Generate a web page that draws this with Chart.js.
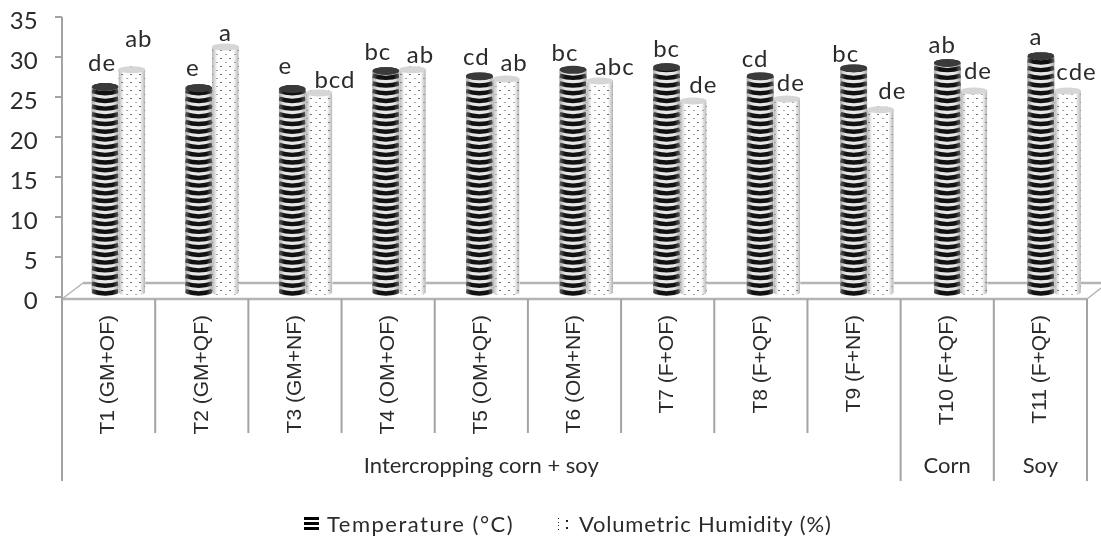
<!DOCTYPE html>
<html>
<head>
<meta charset="utf-8">
<title>Temperature and volumetric humidity</title>
<script src="https://cdn.jsdelivr.net/npm/chart.js@4/dist/chart.umd.min.js"></script>
<style>
    html, body { margin: 0; padding: 0; background: #fff; }
    canvas { display: block; }
</style>
</head>
<body>
<canvas id="soilChart" width="1101" height="537"></canvas>
<script>
// ===========================
// Data
// ===========================

const treatments = [
    'T1 (GM+OF)', 'T2 (GM+QF)', 'T3 (GM+NF)', 'T4 (OM+OF)', 'T5 (OM+QF)', 'T6 (OM+NF)',
    'T7 (F+OF)', 'T8 (F+QF)', 'T9 (F+NF)', 'T10 (F+QF)', 'T11 (F+QF)'
];
const groupNames = ['Intercropping corn + soy', 'Corn', 'Soy'];
const groupSpans = [9, 1, 1];
const temperature = [26.25, 26.1, 26, 28.25, 27.6, 28.4, 28.75, 27.6, 28.6, 29.25, 30.1];
const humidity = [28.4, 31.25, 25.5, 28.4, 27.25, 27, 24.5, 24.75, 23.4, 25.75, 25.75];
const temperatureLetters = ['de', 'e', 'e', 'bc', 'cd', 'bc', 'bc', 'cd', 'bc', 'ab', 'a'];
const humidityLetters = ['ab', 'a', 'bcd', 'ab', 'ab', 'abc', 'de', 'de', 'de', 'de', 'cde'];
const seriesNames = ['Temperature (°C)', 'Volumetric Humidity (%)'];
const valueTicks = [0, 5, 10, 15, 20, 25, 30, 35];

// ===========================
// Placement of the letters, relative to the top of each bar
// ===========================

const temperatureNudge = [[-3, -24], [-6, -20], [-7, -23], [-8, -19], [-3, -19], [-8, -17], [0, -18], [-5, -17], [-8, -14], [-5, -18], [-5, -19]];
const humidityNudge = [[7, -31], [0, -14], [16, -13], [8, -15], [8, -16], [15, -14], [10, -16], [4, -16], [12, -19], [4, -20], [9, -19]];

const TEXT_COLOR = '#2b2b2b';
const AXIS_COLOR = '#a3a3a3';
const FLOOR_COLOR = '#b4b4b4';
const AXIS_LEFT = 62;
const AXIS_RIGHT = 1087;
const FLOOR_DEPTH_X = 21;
const FLOOR_DEPTH_Y = 16;

// ===========================
// Fill patterns
// ===========================

function makeTile(width, height, paint) {
    const tile = document.createElement('canvas');
    tile.width = width;
    tile.height = height;
    paint(tile.getContext('2d'));
    return tile.getContext('2d').createPattern(tile, 'repeat');
}

const dottedFill = makeTile(9, 8, (c) => {
    c.fillStyle = '#ffffff';
    c.fillRect(0, 0, 9, 8);
    c.fillStyle = '#6f6f6f';
    c.fillRect(4, 2, 2, 1);
    c.fillStyle = '#a8a8a8';
    c.fillRect(0, 6, 2, 1);
});

const legendStripes = makeTile(15, 5, (c) => {
    c.fillStyle = '#ffffff';
    c.fillRect(0, 0, 15, 5);
    c.fillStyle = '#000000';
    c.fillRect(0, 0, 15, 3);
});

const legendDots = makeTile(14, 7, (c) => {
    c.fillStyle = '#ffffff';
    c.fillRect(0, 0, 14, 7);
    c.fillStyle = '#222222';
    c.fillRect(2, 1, 1, 1);
    c.fillRect(10, 3, 2, 2);
    c.fillRect(2, 5, 1, 1);
});

// ===========================
// Cylinder look for the bars
// ===========================

function cylinderPath(ctx, bar, capHeight) {
    const half = bar.width / 2;
    ctx.beginPath();
    ctx.moveTo(bar.x - half, bar.y);
    ctx.ellipse(bar.x, bar.y, half, capHeight, 0, Math.PI, 0, false);
    ctx.lineTo(bar.x + half, bar.base);
    ctx.ellipse(bar.x, bar.base, half, capHeight, 0, 0, Math.PI, false);
    ctx.closePath();
}

function edgeShade(ctx, bar, alpha) {
    const half = bar.width / 2;
    const edge = ctx.createLinearGradient(bar.x - half, 0, bar.x + half, 0);
    edge.addColorStop(0, `rgba(140,140,140,${alpha})`);
    edge.addColorStop(0.2, 'rgba(140,140,140,0)');
    edge.addColorStop(0.8, 'rgba(140,140,140,0)');
    edge.addColorStop(1, `rgba(140,140,140,${alpha})`);
    ctx.fillStyle = edge;
    ctx.fillRect(bar.x - half, bar.y - 5, bar.width, bar.base - bar.y + 10);
}

function drawDarkCylinder(ctx, bar) {
    const half = bar.width / 2;
    ctx.save();
    cylinderPath(ctx, bar, 4);
    ctx.fillStyle = '#e6e6e6';
    ctx.fill();
    ctx.clip();
    ctx.filter = 'blur(0.5px)';
    ctx.strokeStyle = '#111111';
    ctx.lineWidth = 4.4;
    for (let y = bar.base + 1; y > bar.y - 4; y -= 7.7) {
        ctx.beginPath();
        ctx.moveTo(bar.x - half, y - 2);
        ctx.quadraticCurveTo(bar.x, y + 2.5, bar.x + half, y - 2);
        ctx.stroke();
    }
    ctx.filter = 'none';
    edgeShade(ctx, bar, 0.6);
    ctx.restore();

    ctx.beginPath();
    ctx.ellipse(bar.x, bar.y, half, 4, 0, 0, Math.PI * 2);
    ctx.fillStyle = '#3a3a3a';
    ctx.fill();
}

function drawLightCylinder(ctx, bar) {
    const half = bar.width / 2;
    ctx.save();
    cylinderPath(ctx, bar, 3.5);
    ctx.fillStyle = dottedFill;
    ctx.fill();
    ctx.clip();
    edgeShade(ctx, bar, 0.65);
    ctx.restore();

    ctx.beginPath();
    ctx.ellipse(bar.x, bar.y, half, 3.5, 0, 0, Math.PI * 2);
    ctx.fillStyle = '#d6d6d6';
    ctx.fill();
}

// ===========================
// Plugin: 3D floor, axes, category table, legend
// ===========================

function frontX(chart, position) {
    const { left, right } = chart.chartArea;
    const boundary = chart.scales.x.getPixelForValue(position - 0.5);
    return AXIS_LEFT + (boundary - left) * (AXIS_RIGHT - AXIS_LEFT) / (right - left);
}

function strokeLine(ctx, x1, y1, x2, y2) {
    ctx.beginPath();
    ctx.moveTo(x1, y1);
    ctx.lineTo(x2, y2);
    ctx.stroke();
}

function drawLegend(ctx) {
    const swatches = [legendStripes, legendDots];
    const slots = [304, 556];
    const spacing = ['1.5px', '0.8px'];
    ctx.font = '22px Lato';
    ctx.textAlign = 'left';
    ctx.textBaseline = 'middle';
    seriesNames.forEach((name, i) => {
        ctx.save();
        ctx.translate(slots[i], 517);
        ctx.fillStyle = swatches[i];
        ctx.fillRect(0, 0, 15, 15);
        ctx.restore();
        ctx.letterSpacing = spacing[i];
        ctx.fillStyle = TEXT_COLOR;
        ctx.fillText(name, slots[i] + 23, 525);
    });
    ctx.letterSpacing = '0px';
}

const frameworkPlugin = {
    id: 'framework',
    beforeDatasetsDraw(chart) {
        const ctx = chart.ctx;
        const yScale = chart.scales.y;
        const zero = yScale.getPixelForValue(0);
        const front = zero + 2;
        const back = front - FLOOR_DEPTH_Y;

        ctx.save();

        // floor of the 3D box
        ctx.strokeStyle = FLOOR_COLOR;
        ctx.lineWidth = 2.5;
        strokeLine(ctx, AXIS_LEFT, front, AXIS_RIGHT, front);
        strokeLine(ctx, AXIS_LEFT + FLOOR_DEPTH_X, back, 1101, back);
        ctx.lineWidth = 1.5;
        strokeLine(ctx, AXIS_LEFT, front, AXIS_LEFT + FLOOR_DEPTH_X, back);
        strokeLine(ctx, AXIS_RIGHT, front, 1101, front - 11);

        // value axis
        ctx.strokeStyle = AXIS_COLOR;
        ctx.lineWidth = 2;
        strokeLine(ctx, AXIS_LEFT, yScale.getPixelForValue(35), AXIS_LEFT, front);
        valueTicks.forEach((v) => {
            const y = yScale.getPixelForValue(v);
            strokeLine(ctx, AXIS_LEFT - 7, y, AXIS_LEFT, y);
        });

        // separators under the axis, long ones at the group edges
        const groupEdges = [0];
        groupSpans.forEach((span, i) => groupEdges.push(groupEdges[i] + span));
        for (let i = 0; i <= treatments.length; i++) {
            const x = frontX(chart, i);
            strokeLine(ctx, x, front, x, groupEdges.includes(i) ? 481 : 433);
        }

        // rotated treatment names
        ctx.fillStyle = TEXT_COLOR;
        treatments.forEach((name, i) => {
            ctx.save();
            ctx.translate((frontX(chart, i) + frontX(chart, i + 1)) / 2, 315);
            ctx.rotate(-Math.PI / 2);
            ctx.font = '21px "Liberation Sans"';
            ctx.textAlign = 'right';
            ctx.textBaseline = 'middle';
            ctx.fillText(name, 0, 0);
            ctx.restore();
        });

        // group names
        ctx.font = '22px Lato';
        ctx.textAlign = 'center';
        ctx.textBaseline = 'middle';
        groupNames.forEach((name, i) => {
            const x = (frontX(chart, groupEdges[i]) + frontX(chart, groupEdges[i + 1])) / 2;
            ctx.fillText(name, x, 466);
        });

        drawLegend(ctx);
        ctx.restore();
    },
    afterDatasetsDraw(chart) {
        const ctx = chart.ctx;
        const darkBars = chart.getDatasetMeta(0).data;
        const lightBars = chart.getDatasetMeta(1).data;

        darkBars.forEach((bar) => drawDarkCylinder(ctx, bar));
        lightBars.forEach((bar) => drawLightCylinder(ctx, bar));

        ctx.save();
        ctx.font = '24px Lato';
        ctx.fillStyle = TEXT_COLOR;
        ctx.textAlign = 'center';
        ctx.textBaseline = 'middle';
        ctx.letterSpacing = '1px';
        darkBars.forEach((bar, i) => {
            const [dx, dy] = temperatureNudge[i];
            ctx.fillText(temperatureLetters[i], bar.x + dx, bar.y + dy);
        });
        lightBars.forEach((bar, i) => {
            const [dx, dy] = humidityNudge[i];
            ctx.fillText(humidityLetters[i], bar.x + dx, bar.y + dy);
        });
        ctx.restore();
    }
};

// ===========================
// Chart
// ===========================

new Chart(document.getElementById('soilChart'), {
    type: 'bar',
    data: {
        labels: treatments,
        datasets: [
            { label: seriesNames[0], data: temperature, backgroundColor: '#3a3a3a', base: 0.6 },
            { label: seriesNames[1], data: humidity, backgroundColor: dottedFill, base: 0.6 }
        ]
    },
    options: {
        responsive: false,
        animation: false,
        events: [],
        categoryPercentage: 0.57,
        barPercentage: 1,
        layout: { autoPadding: false, padding: { top: 17, left: 0, right: 0, bottom: 0 } },
        scales: {
            x: {
                grid: { display: false },
                border: { display: false },
                ticks: { display: false },
                afterFit(scale) { scale.height = 240; }
            },
            y: {
                min: 0,
                max: 35,
                afterBuildTicks(scale) { scale.ticks = valueTicks.map((value) => ({ value })); },
                afterFit(scale) {
                    scale.width = 71.7;
                    scale.paddingTop = 0;
                    scale.paddingBottom = 0;
                },
                grid: { display: false, drawTicks: false },
                border: { display: false },
                ticks: {
                    padding: 34,
                    labelOffset: 4,
                    color: TEXT_COLOR,
                    font: { family: 'Lato', size: 24 }
                }
            }
        },
        plugins: {
            tooltip: { enabled: false },
            legend: { display: false }
        }
    },
    plugins: [frameworkPlugin]
});
</script>
</body>
</html>
